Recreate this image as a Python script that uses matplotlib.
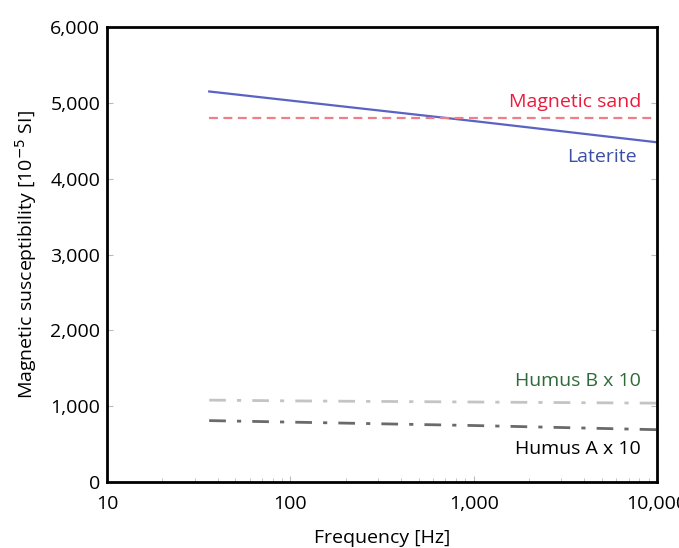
import matplotlib
matplotlib.use('Agg')
from matplotlib import pyplot as plt
from matplotlib.ticker import FuncFormatter, LogLocator, NullFormatter

plt.rcParams['font.family'] = ['Open Sans', 'DejaVu Sans']

# frequencies [Hz] and susceptibilities [10^-5 SI]
freq = [36, 100, 1000, 10000]
laterite = [5150, 5030, 4760, 4480]
magnetic_sand = [4800, 4800, 4800, 4800]
humus_b = [1080, 1070, 1055, 1040]
humus_a = [810, 790, 745, 690]

fig = plt.figure(figsize=(6.79, 5.48), dpi=100)
ax = fig.add_axes([0.158, 0.1204, 0.8095, 0.8303])

ax.plot(freq, laterite, c='#5a63c4', lw=1.6)
ax.plot(freq, magnetic_sand, c='#ee7f8a', lw=1.6, ls=(0, (4, 2.5)))
ax.plot(freq, humus_b, c='#c4c4c4', lw=2.0, ls=(0, (6, 4, 1.5, 4)))
ax.plot(freq, humus_a, c='#6a6a6a', lw=2.0, ls=(0, (6, 4, 1.5, 4)))

ax.set_xscale('log')
ax.set_xlim(10, 10000)
ax.set_ylim(0, 6000)
ax.set_xticks([10, 100, 1000, 10000])
ax.xaxis.set_minor_locator(LogLocator(base=10, subs=range(2, 10)))
ax.xaxis.set_minor_formatter(NullFormatter())
ax.set_yticks(range(0, 6001, 1000))
fmt = FuncFormatter(lambda v, p: '{:,.0f}'.format(v))
ax.xaxis.set_major_formatter(fmt)
ax.yaxis.set_major_formatter(fmt)

ax.tick_params(which='both', direction='in', color='#bbbbbb', labelsize=14,
               top=False, right=True)
ax.tick_params(which='major', length=4, pad=5)
ax.tick_params(axis='x', which='major', pad=9)
ax.tick_params(which='minor', length=3)
for s in ax.spines.values():
    s.set_linewidth(2)
    s.set_color('black')

fs = 14
ax.text(0.971, 0.836, 'Magnetic sand', color='#ea1b3c', fontsize=fs,
        ha='right', va='center', transform=ax.transAxes)
ax.text(0.964, 0.714, 'Laterite', color='#3b4fa8', fontsize=fs,
        ha='right', va='center', transform=ax.transAxes)
ax.text(0.971, 0.222, 'Humus B x 10', color='#2e6b3a', fontsize=fs,
        ha='right', va='center', transform=ax.transAxes)
ax.text(0.971, 0.073, 'Humus A x 10', color='black', fontsize=fs,
        ha='right', va='center', transform=ax.transAxes)

ax.set_xlabel('Frequency [Hz]', fontsize=fs, labelpad=12)
ax.set_ylabel('Magnetic susceptibility [10$^{-5}$ SI]', fontsize=fs, labelpad=8)

fig.savefig('out.png', dpi=100)
